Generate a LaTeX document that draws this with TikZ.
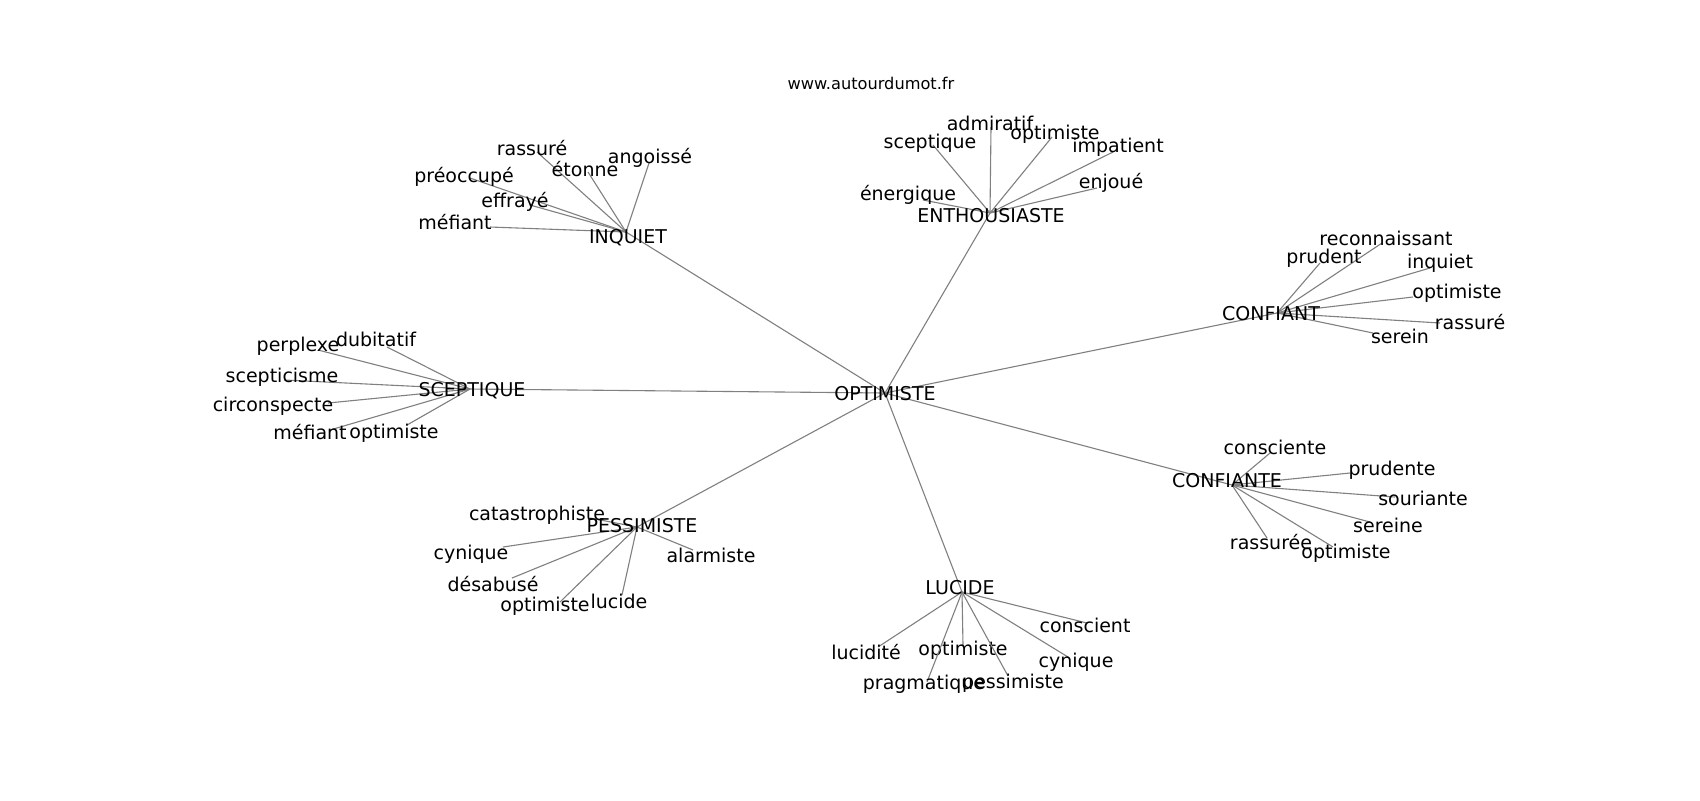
\documentclass[tikz,border=0pt]{standalone}
\usepackage{fontspec}
\setmainfont{DejaVu Sans}
\begin{document}
\begin{tikzpicture}[x=0.5pt,y=-0.5pt,
  edge/.style={draw=gray,line width=0.55pt},
  lbl/.style={inner sep=0pt,anchor=center,text height=0.73em,text depth=0pt,font=\fontsize{9.5}{11}\selectfont,yshift=0.5pt},
  hublbl/.style={inner sep=0pt,anchor=center,text height=0.73em,text depth=0pt,font=\fontsize{9.5}{11}\selectfont},
  ttl/.style={inner sep=0pt,anchor=center,text height=0.73em,text depth=0pt,font=\fontsize{8.1}{10}\selectfont}]
\useasboundingbox (0,0) rectangle (1700,800);
\fill[white] (0,0) rectangle (1700,800);
\node[ttl] (title) at (871,82) {www.autourdumot.fr};
% hubs
\coordinate (c-opt) at (885,393);
\coordinate (c-inq) at (626,232);
\coordinate (c-ent) at (990,213);
\coordinate (c-cft) at (1277,313);
\coordinate (c-sce) at (470,389);
\coordinate (c-pes) at (637,527);
\coordinate (c-luc) at (962,592);
\coordinate (c-cfe) at (1232,485);
\foreach \h in {inq,ent,cft,sce,pes,luc,cfe}{\draw[edge] (c-opt) -- (c-\h);}
% leaves
\foreach \n/\lx/\ly/\ex/\ey/\t in {
 rassure/532/149/537/152/rassuré,
 etonne/585/170/588/172/étonne,
 angoisse/650/157/649/163/angoissé,
 preoccupe/464/176/470/178/préoccupé,
 effraye/515/201/530/205/effrayé,
 mefiant/455/223/490/227/méfiant}{
 \coordinate (e-inq-\n) at (\ex,\ey);
 \draw[edge] (c-inq) -- (e-inq-\n);
 \node[lbl] (l-inq-\n) at (\lx,\ly) {\t};}
\foreach \n/\lx/\ly/\ex/\ey/\t in {
 admiratif/990/124/991/127/admiratif,
 sceptique/930/142/933/145/sceptique,
 optimiste/1055/133/1052/137/optimiste,
 impatient/1118/146/1113/152/impatient,
 enjoue/1111/182/1097/188/enjoué,
 energique/908/194/923/200/énergique}{
 \coordinate (e-ent-\n) at (\ex,\ey);
 \draw[edge] (c-ent) -- (e-ent-\n);
 \node[lbl] (l-ent-\n) at (\lx,\ly) {\t};}
\foreach \n/\lx/\ly/\ex/\ey/\t in {
 reconnaissant/1386/239/1382/243/reconnaissant,
 prudent/1324/257/1320/263/prudent,
 inquiet/1440/262/1430/268/inquiet,
 optimiste/1457/292/1413/297/optimiste,
 rassure/1470/323/1440/323/rassuré,
 serein/1400/337/1373/333/serein}{
 \coordinate (e-cft-\n) at (\ex,\ey);
 \draw[edge] (c-cft) -- (e-cft-\n);
 \node[lbl] (l-cft-\n) at (\lx,\ly) {\t};}
\foreach \n/\lx/\ly/\ex/\ey/\t in {
 perplexe/298/345/318/350/perplexe,
 dubitatif/376/340/387/347/dubitatif,
 scepticisme/282/376/284/380/scepticisme,
 circonspecte/273/405/328/403/circonspecte,
 mefiant/310/433/330/430/méfiant,
 optimiste/394/432/407/425/optimiste}{
 \coordinate (e-sce-\n) at (\ex,\ey);
 \draw[edge] (c-sce) -- (e-sce-\n);
 \node[lbl] (l-sce-\n) at (\lx,\ly) {\t};}
\foreach \n/\lx/\ly/\ex/\ey/\t in {
 catastrophiste/537/514/590/518/catastrophiste,
 cynique/471/553/503/547/cynique,
 alarmiste/711/556/693/550/alarmiste,
 desabuse/493/585/512/578/désabusé,
 optimiste/545/605/560/602/optimiste,
 lucide/619/602/622/595/lucide}{
 \coordinate (e-pes-\n) at (\ex,\ey);
 \draw[edge] (c-pes) -- (e-pes-\n);
 \node[lbl] (l-pes-\n) at (\lx,\ly) {\t};}
\foreach \n/\lx/\ly/\ex/\ey/\t in {
 conscient/1085/626/1087/623/conscient,
 lucidite/866/653/878/647/lucidité,
 optimiste/963/649/963/645/optimiste,
 cynique/1076/661/1068/657/cynique,
 pragmatique/924/683/927/682/pragmatique,
 pessimiste/1013/682/1008/676/pessimiste}{
 \coordinate (e-luc-\n) at (\ex,\ey);
 \draw[edge] (c-luc) -- (e-luc-\n);
 \node[lbl] (l-luc-\n) at (\lx,\ly) {\t};}
\foreach \n/\lx/\ly/\ex/\ey/\t in {
 consciente/1275/448/1270/453/consciente,
 prudente/1392/469/1350/473/prudente,
 souriante/1423/499/1395/497/souriante,
 sereine/1388/526/1370/522/sereine,
 rassuree/1271/543/1267/538/rassurée,
 optimiste/1346/552/1333/547/optimiste}{
 \coordinate (e-cfe-\n) at (\ex,\ey);
 \draw[edge] (c-cfe) -- (e-cfe-\n);
 \node[lbl] (l-cfe-\n) at (\lx,\ly) {\t};}
% hub labels
\node[hublbl] (n-opt) at (885,393) {OPTIMISTE};
\node[hublbl] (n-inq) at (628,236) {INQUIET};
\node[hublbl] (n-ent) at (991,215) {ENTHOUSIASTE};
\node[hublbl] (n-cft) at (1271,313) {CONFIANT};
\node[hublbl] (n-sce) at (472,389) {SCEPTIQUE};
\node[hublbl] (n-pes) at (642,525) {PESSIMISTE};
\node[hublbl] (n-luc) at (960,587) {LUCIDE};
\node[hublbl] (n-cfe) at (1227,480) {CONFIANTE};
\end{tikzpicture}
\end{document}
